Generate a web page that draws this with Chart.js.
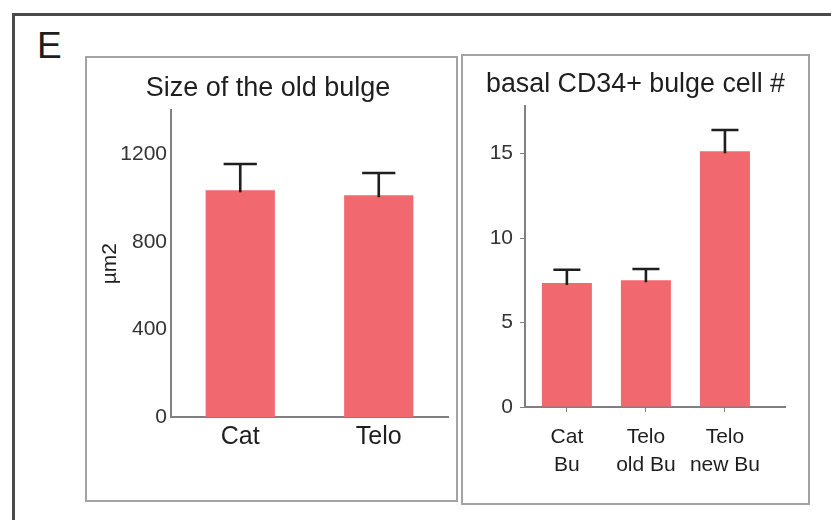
<!DOCTYPE html>
<html>
<head>
<meta charset="utf-8">
<script src="https://cdn.jsdelivr.net/npm/chart.js@4.4.1/dist/chart.umd.min.js"></script>
<style>
  html, body { margin: 0; padding: 0; background: #fff; }
  body { width: 831px; height: 520px; position: relative; overflow: hidden;
         font-family: "Liberation Sans", Arial, sans-serif; }
  #frame { position: absolute; left: 12px; top: 13px; width: 900px; height: 600px;
           border-left: 3px solid #4a4a4a; border-top: 3px solid #4a4a4a; }
  #letter { position: absolute; left: 37px; top: 26px; font-size: 37px; line-height: 40px; color: #1e1e1e; }
  .panel { position: absolute; border: 2px solid #a3a3a3; box-sizing: border-box; }
  #pL { left: 85px; top: 56px; width: 373px; height: 446px; }
  #pR { left: 461px; top: 54px; width: 349px; height: 451px; }
  .holder { position: absolute; }
  #hL { left: 88px; top: 59px; width: 366px; height: 439px; }
  #hR { left: 486px; top: 57px; width: 320px; height: 444px; }
</style>
</head>
<body>
<div id="frame"></div>
<div id="letter">E</div>
<div class="panel" id="pL"></div>
<div class="panel" id="pR"></div>
<div class="holder" id="hL"><canvas id="cL" width="366" height="439"></canvas></div>
<div class="holder" id="hR"><canvas id="cR" width="320" height="444"></canvas></div>

<script>
// Size of the old bulge (µm2), mean and upper error
const sizeGroups = ['Cat', 'Telo'];
const sizeMeans  = [1035, 1012];
const sizeErrors = [120, 102];
const sizeTicks  = [0, 400, 800, 1200];

// basal CD34+ bulge cell count, mean and upper error
const cellGroups = [['Cat', 'Bu'], ['Telo', 'old Bu'], ['Telo', 'new Bu']];
const cellMeans  = [7.35, 7.5, 15.15];
const cellErrors = [0.78, 0.67, 1.25];
const cellTicks  = [0, 5, 10, 15];

const FONT = '"Liberation Sans", Arial, Helvetica, sans-serif';
const BAR = '#F2686F';
const AXIS = '#808080';
const INK = '#1e1e1e';

// Upward error whiskers with a cap, drawn through the chart's own scales
const errorBars = {
  id: 'errorBars',
  afterDatasetsDraw(chart, args, opts) {
    const ctx = chart.ctx;
    const yScale = chart.scales.y;
    const meta = chart.getDatasetMeta(0);
    const data = chart.data.datasets[0].data;
    ctx.save();
    ctx.strokeStyle = INK;
    ctx.lineWidth = 2.6;
    ctx.lineCap = 'butt';
    meta.data.forEach((bar, i) => {
      const v = typeof data[i] === 'object' ? data[i].y : data[i];
      const top = yScale.getPixelForValue(v + opts.errors[i]);
      const half = bar.width * opts.capRatio / 2;
      ctx.beginPath();
      ctx.moveTo(bar.x, bar.y + 2);
      ctx.lineTo(bar.x, top);
      ctx.moveTo(bar.x - half, top);
      ctx.lineTo(bar.x + half, top);
      ctx.stroke();
    });
    ctx.restore();
  }
};

Chart.defaults.font.family = FONT;
Chart.defaults.animation = false;

new Chart(document.getElementById('cL'), {
  type: 'bar',
  data: {
    labels: sizeGroups,
    datasets: [{ data: sizeMeans, backgroundColor: BAR, borderWidth: 0,
                 categoryPercentage: 1, barPercentage: 0.5 }]
  },
  options: {
    responsive: false,
    layout: { padding: { left: 0, right: 6, top: 0, bottom: 0 } },
    plugins: {
      legend: { display: false },
      tooltip: { enabled: false },
      title: { display: true, text: 'Size of the old bulge', color: INK,
               font: { size: 27, weight: 'normal' }, padding: { top: 13, bottom: 6 } },
      errorBars: { errors: sizeErrors, capRatio: 0.48 }
    },
    scales: {
      x: {
        offset: true,
        grid: { display: false, drawTicks: false },
        border: { color: AXIS, width: 2 },
        ticks: { color: INK, font: { size: 25 }, padding: 5 },
        afterFit(s) { s.height = 81; }
      },
      y: {
        min: 0, max: 1400,
        grid: { display: false, drawTicks: false },
        border: { color: AXIS, width: 2 },
        ticks: { color: '#333', font: { size: 21 }, padding: 4, includeBounds: false, stepSize: 400,
                 callback: (v) => String(v) },
        afterBuildTicks(s) { s.ticks = sizeTicks.map(v => ({ value: v })); },
        title: { display: true, text: 'µm2', color: INK, font: { size: 21 }, padding: { top: 10, bottom: 0 } },
        afterFit(s) { s.width = 83; }
      }
    }
  },
  plugins: [errorBars]
});

new Chart(document.getElementById('cR'), {
  type: 'bar',
  data: {
    datasets: [{ data: cellMeans.map((v, i) => ({ x: i + 1, y: v })), backgroundColor: BAR, borderWidth: 0,
                 categoryPercentage: 1, barPercentage: 0.633 }]
  },
  options: {
    responsive: false,
    layout: { padding: { left: 0, right: 21, top: 0, bottom: 0 } },
    plugins: {
      legend: { display: false },
      tooltip: { enabled: false },
      title: { display: true, text: 'basal CD34+ bulge cell #', color: INK,
               font: { size: 27, weight: 'normal' }, padding: { top: 11, bottom: 6 } },
      errorBars: { errors: cellErrors, capRatio: 0.54 }
    },
    scales: {
      x: {
        type: 'linear', min: 0.47, max: 3.76, offset: false,
        afterBuildTicks(s) { s.ticks = cellGroups.map((g, i) => ({ value: i + 1 })); },
        grid: { display: true, offset: false, drawOnChartArea: false, drawTicks: true, tickLength: 5, color: AXIS, lineWidth: 1 },
        border: { color: AXIS, width: 2 },
        ticks: { color: INK, font: { size: 21, lineHeight: 1.33 }, padding: 11,
                 callback: (v) => cellGroups[v - 1] },
        afterFit(s) { s.height = 94; }
      },
      y: {
        min: 0, max: 17.8,
        grid: { display: true, drawOnChartArea: false, drawTicks: true, tickLength: 5, color: AXIS, lineWidth: 1 },
        border: { color: AXIS, width: 2 },
        ticks: { color: '#333', font: { size: 21 }, padding: 7, includeBounds: false, stepSize: 5 },
        afterBuildTicks(s) { s.ticks = cellTicks.map(v => ({ value: v })); },
        afterFit(s) { s.width = 39; }
      }
    }
  },
  plugins: [errorBars]
});
</script>
</body>
</html>
